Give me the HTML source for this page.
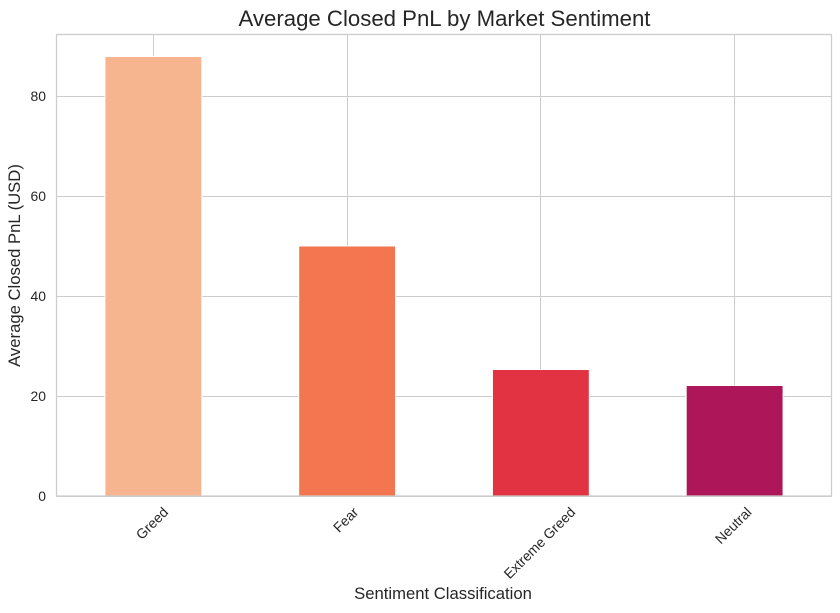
<!DOCTYPE html>
<html>
<head>
<meta charset="utf-8">
<style>
html,body{margin:0;padding:0;background:#fff;width:840px;height:613px;overflow:hidden}
svg{display:block}
text{font-family:"Liberation Sans",Arial,sans-serif;fill:#262626}
</style>
</head>
<body>
<svg id="chart" width="840" height="613" viewBox="0 0 840 613" xmlns="http://www.w3.org/2000/svg">
  <text x="444.5" y="26" font-size="22.2" text-anchor="middle">Average Closed PnL by Market Sentiment</text>
  <g id="grid"></g>
  <g id="bars"></g>
  <rect x="56.5" y="34.5" width="775" height="461.5" fill="none" stroke="#cccccc" stroke-width="1.25"/>
  <g id="yticks"></g>
  <g id="xticks"></g>
  <text x="443" y="599" font-size="16.67" text-anchor="middle">Sentiment Classification</text>
  <text transform="translate(20 265.5) rotate(-90)" font-size="16.67" text-anchor="middle">Average Closed PnL (USD)</text>
</svg>
<script>
const categories = ["Greed", "Fear", "Extreme Greed", "Neutral"];
const pnlValues = [87.9, 50.0, 25.3, 22.1];
const barColors = ["#f6b48f", "#f37651", "#e13342", "#ad1759"];
const yTickValues = [0, 20, 40, 60, 80];

const NS = "http://www.w3.org/2000/svg";
const plot = { left: 56.5, right: 831.5, top: 34.5, bottom: 496 };
const yMax = Math.max(...pnlValues) * 1.05;
const bandWidth = (plot.right - plot.left) / categories.length;
const xScale = i => plot.left + (i + 0.5) * bandWidth;
const yScale = v => plot.bottom - v * (plot.bottom - plot.top) / yMax;

function make(tag, parent, attrs) {
  const el = document.createElementNS(NS, tag);
  for (const k in attrs) el.setAttribute(k, attrs[k]);
  parent.appendChild(el);
  return el;
}

const gridG = document.getElementById("grid");
const barsG = document.getElementById("bars");
const yG = document.getElementById("yticks");
const xG = document.getElementById("xticks");

yTickValues.forEach(v => {
  const y = yScale(v);
  const crispY = Math.round(y) + 0.5;
  const line = make("line", gridG, { x1: plot.left, x2: plot.right, y1: crispY, y2: crispY, stroke: "#cccccc", "stroke-width": 1 });
  
  
  const label = make("text", yG, { x: 46, y: y + 5, "font-size": 13.9, "text-anchor": "end" });
  
  
  label.textContent = v;
});

categories.forEach((c, i) => {
  const x = xScale(i);
  const crispX = Math.floor(x) + 0.5;
  const line = make("line", gridG, { x1: crispX, x2: crispX, y1: plot.top, y2: plot.bottom, stroke: "#cccccc", "stroke-width": 1 });
  
  

  const top = yScale(pnlValues[i]);
  const bar = make("rect", barsG, {
    x: x - bandWidth / 4, y: top, width: bandWidth / 2, height: plot.bottom - top,
    fill: barColors[i], stroke: "#ffffff", "stroke-width": 1
  });
  
  

  const label = make("text", xG, {
    "font-size": 13.9, "text-anchor": "middle",
    transform: "translate(0 0)"
  });
  
  
  label.textContent = c;
  const half = label.getComputedTextLength() / 2;
  const d = (half + 5) * Math.SQRT1_2;
  label.setAttribute("transform", `translate(${x - 1.5} ${plot.bottom + 10 + d}) rotate(-45)`);
  label.setAttribute("dy", "5");
});
</script>
</body>
</html>
